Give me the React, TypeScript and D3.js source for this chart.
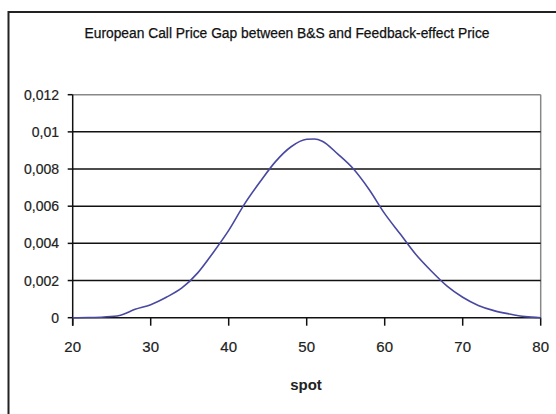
import React from "react";
import * as d3 from "d3";

const spots = [20, 22, 24, 26, 28, 30, 32, 34, 36, 38, 40, 42, 44, 46, 48, 50, 51, 52, 54, 56, 58, 60, 62, 64, 66, 68, 70, 72, 74, 76, 78, 80];
const gaps = [0, 0.00001, 0.00004, 0.00012, 0.00045, 0.0007, 0.0011, 0.0016, 0.0024, 0.0035, 0.0047, 0.0061, 0.0073, 0.0084, 0.0092, 0.0096, 0.00962, 0.0095, 0.0088, 0.008, 0.0069, 0.0056, 0.0045, 0.0034, 0.0025, 0.0017, 0.0011, 0.00066, 0.00038, 0.0002, 0.00006, 0];
const xTicks = [20, 30, 40, 50, 60, 70, 80];
const yTicks = [0, 0.002, 0.004, 0.006, 0.008, 0.01, 0.012];
const yTickLabels = ["0", "0,002", "0,004", "0,006", "0,008", "0,01", "0,012"];
const title = "European Call Price Gap between B&S and Feedback-effect Price";
const xTitle = "spot";

const W = 556, H = 414;
const L = 72.7, R = 540.7, T = 94.7, B = 317.7;
const FONT = "'Liberation Sans Narrow', 'Arial Narrow', 'Liberation Sans', Arial, sans-serif";

export default function App() {
  const x = d3.scaleLinear().domain([20, 80]).range([L, R]);
  const y = d3.scaleLinear().domain([0, 0.012]).range([B, T]);
  const line = d3
    .line<number>()
    .x((_, i) => x(spots[i]))
    .y((d) => y(d))
    .curve(d3.curveMonotoneX);
  return (
    <svg width={W} height={H} style={{ position: "absolute", left: 0, top: 0, background: "#fff" }}>
      <rect x={0} y={0} width={W} height={H} fill="#fff" />
      <rect x={8.5} y={12} width={600} height={500} fill="none" stroke="#222" strokeWidth={2} />
      <text x={287} y={38} textAnchor="middle" fontFamily={FONT} fontSize={14} fill="#111" stroke="#111" strokeWidth={0.25} textLength={405} lengthAdjust="spacingAndGlyphs">
        {title}
      </text>
      {/* plot border top/right grey */}
      <line x1={L} x2={R} y1={T} y2={T} stroke="#888" strokeWidth={1.5} />
      <line x1={R} x2={R} y1={T} y2={B} stroke="#888" strokeWidth={1.5} />
      {/* gridlines */}
      {yTicks.slice(1, -1).map((t) => (
        <line key={t} x1={L} x2={R} y1={y(t)} y2={y(t)} stroke="#111" strokeWidth={1.5} />
      ))}
      {/* y axis */}
      <line x1={L} x2={L} y1={T} y2={B + 8} stroke="#111" strokeWidth={1.5} />
      {yTicks.map((t, i) => (
        <g key={t}>
          <line x1={L - 5} x2={L} y1={y(t)} y2={y(t)} stroke="#111" strokeWidth={1.5} />
          <text x={59} y={y(t) + 5} textAnchor="end" fontFamily={FONT} fontSize={14} fill="#222" stroke="#222" strokeWidth={0.2}>
            {yTickLabels[i]}
          </text>
        </g>
      ))}
      {/* x axis */}
      <line x1={L} x2={R} y1={B} y2={B} stroke="#111" strokeWidth={1.5} />
      {xTicks.map((t) => (
        <g key={t}>
          <line x1={x(t)} x2={x(t)} y1={B} y2={B + 8} stroke="#111" strokeWidth={1.5} />
          <text x={x(t)} y={352} textAnchor="middle" fontFamily={FONT} fontSize={15} fill="#222" stroke="#222" strokeWidth={0.2}>
            {t}
          </text>
        </g>
      ))}
      <text x={306} y={390} textAnchor="middle" fontFamily={FONT} fontSize={15} fontWeight="bold" fill="#222">
        {xTitle}
      </text>
      <path d={line(gaps) || ""} fill="none" stroke="#4848a0" strokeWidth={1.6} />
    </svg>
  );
}
